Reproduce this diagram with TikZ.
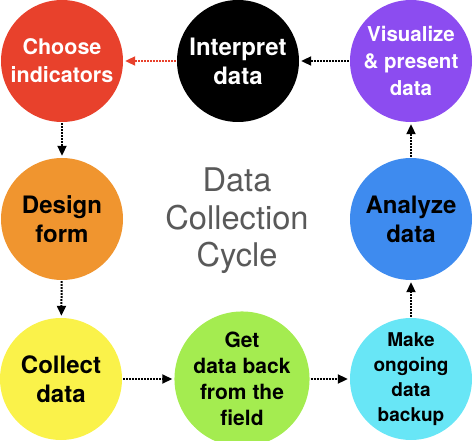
\documentclass[tikz,border=0pt]{standalone}
\usepackage{fontspec}
\setmainfont{TeX Gyre Heros}
\usetikzlibrary{arrows.meta}
\definecolor{cred}{HTML}{E8412C}
\definecolor{cpurple}{HTML}{8C4CF0}
\definecolor{corange}{HTML}{F0952F}
\definecolor{cblue}{HTML}{3E8BEF}
\definecolor{cyellow}{HTML}{FAF24A}
\definecolor{cgreen}{HTML}{A4EC50}
\definecolor{ccyan}{HTML}{68E6F6}
\definecolor{cgray}{HTML}{595959}
\tikzset{
  stage/.style={circle, minimum size=122pt, inner sep=0pt, align=center, font=\bfseries\fontsize{24}{29}\selectfont},
  flow/.style={line width=2pt, dash pattern=on 1.8pt off 1.2pt, -{Triangle[length=10pt,width=9pt]}, shorten >=2pt, shorten <=1pt},
}
\begin{document}
\begin{tikzpicture}[x=1pt,y=-1pt]
\useasboundingbox (0,0) rectangle (474,441);
\node[stage, fill=cred, text=white, font=\bfseries\fontsize{21.5}{28}\selectfont] (choose) at (62,61) {Choose\\indicators};
\node[stage, fill=black, text=white] (interp) at (238,61) {Interpret\\data};
\node[stage, fill=cpurple, text=white, font=\bfseries\fontsize{20.5}{27}\selectfont] (visual) at (411,61) {Visualize\\\& present\\data};
\node[stage, fill=corange] (design) at (62,219) {Design\\form};
\node[stage, fill=cblue] (analyze) at (411,219) {Analyze\\data};
\node[stage, fill=cyellow] (collect) at (61,379) {Collect\\data};
\node[stage, fill=cgreen, font=\bfseries\fontsize{21}{26}\selectfont] (getdata) at (242,379) {Get\\data back\\from the\\field};
\node[stage, fill=ccyan, font=\bfseries\fontsize{19}{25}\selectfont] (backup) at (411,379) {Make\\ongoing\\data\\backup};
\node[text=cgray, align=center, font=\fontsize{32.6}{37.5}\selectfont] (title) at (237,221) {Data\\Collection\\Cycle};
\draw[flow, cred] (interp) -- (choose);
\draw[flow] (visual) -- (interp);
\draw[flow] (choose) -- (design);
\draw[flow] (design) -- (collect);
\draw[flow] (collect) -- (getdata);
\draw[flow] (getdata) -- (backup);
\draw[flow] (backup) -- (analyze);
\draw[flow] (analyze) -- (visual);
\end{tikzpicture}
\end{document}
